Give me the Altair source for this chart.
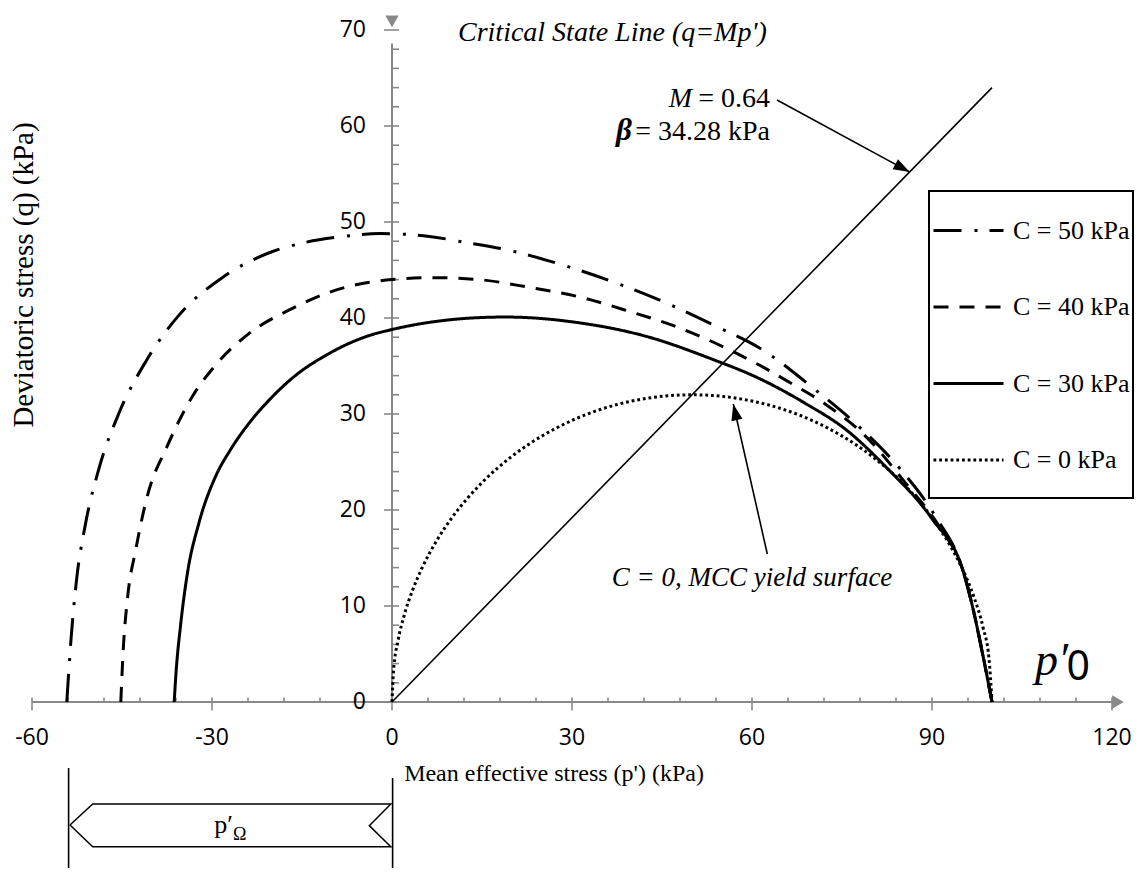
import altair as alt
import pandas as pd

# ---------------- data ----------------
SERIES = ["C = 50 kPa", "C = 40 kPa", "C = 30 kPa", "C = 0 kPa"]

P_C50 = [-54.2, -53.5, -52.6, -51.1, -48.8, -45.5, -41.0, -35.5, -28.3, -20.0, -15.0, -8.0, -2.0,
         6.2, 12.0, 18.4, 27.5, 36.7, 45.6, 54.5, 61.2, 70.6, 77.8, 84.8, 90.6, 95.0, 100.0]
Q_C50 = [0.0, 6.5, 12.6, 18.5, 24.4, 30.1, 35.5, 40.3, 44.2, 46.9, 47.8, 48.5, 48.8,
         48.5, 47.9, 47.2, 45.7, 43.8, 41.6, 39.0, 36.9, 32.5, 28.7, 24.2, 19.3, 14.0, 0.0]

P_C40 = [-45.2, -44.8, -44.1, -42.7, -40.8, -37.5, -33.3, -29.4, -23.8, -16.6, -9.4, 0.0, 7.0,
         14.5, 22.8, 31.2, 39.5, 47.8, 56.2, 61.2, 66.5, 72.3, 78.9, 85.6, 91.2, 95.0, 100.0]
Q_C40 = [0.0, 5.4, 10.7, 15.9, 21.4, 26.6, 31.8, 35.1, 38.4, 41.0, 42.9, 44.0, 44.2,
         44.0, 43.2, 42.2, 40.7, 39.0, 36.7, 35.1, 33.2, 31.0, 27.7, 22.8, 18.3, 14.0, 0.0]

P_C30 = [-36.3, -36.0, -35.2, -34.1, -32.2, -29.4, -27.0, -24.0, -21.0, -15.5, -11.6, -7.7,
         -3.9, 0.0, 3.9, 7.8, 13.0, 18.9, 31.2, 42.3, 53.4, 61.2, 68.9, 75.6, 82.3, 90.1,
         95.0, 100.0]
Q_C30 = [0.0, 3.0, 8.2, 13.4, 18.6, 23.5, 26.2, 28.9, 31.1, 34.3, 35.9, 37.2,
         38.15, 38.8, 39.31, 39.68, 39.99, 40.1, 39.5, 38.1, 35.7, 33.7, 31.1, 28.4, 24.5, 19.0,
         14.0, 0.0]

P_C0 = [0, 0.25, 1, 2, 3.5, 5, 7.5, 10, 15, 20, 25, 30, 35, 40, 45, 50, 55, 60, 65, 70,
        75, 80, 85, 90, 93, 95, 97, 98.5, 99.5, 100]
Q_C0 = [0, 3.2, 6.37, 8.96, 11.76, 13.95, 16.86, 19.2, 22.85, 25.6, 27.71, 29.33, 30.53,
        31.35, 31.84, 32, 31.84, 31.35, 30.53, 29.33, 27.71, 25.6, 22.85, 19.2, 16.33,
        13.95, 10.92, 7.78, 4.51, 0]

CSL_P = [0, 100]
CSL_Q = [0, 64]

X_TICKS = [-60, -30, 0, 30, 60, 90, 120]
Y_TICKS = [0, 10, 20, 30, 40, 50, 60, 70]
X_MINOR = [-54, -48, -42, -36, -24, -18, -12, -6, 6, 12, 18, 24, 36, 42, 48, 54,
           66, 72, 78, 84, 96, 102, 108, 114]
Y_MINOR = [2, 4, 6, 8, 12, 14, 16, 18, 22, 24, 26, 28, 32, 34, 36, 38, 42, 44, 46, 48,
           52, 54, 56, 58, 62, 64, 66, 68]

# ---------------- styling helpers ----------------
AX = "#898989"
SERIF = "Liberation Serif"
SANS = "Open Sans"
XS = alt.Scale(domain=[-60, 120], nice=False, zero=False)
YS = alt.Scale(domain=[0, 70], nice=False, zero=False)


def X(f="p"):
    return alt.X(f"{f}:Q", scale=XS, axis=None)


def Y(f="q"):
    return alt.Y(f"{f}:Q", scale=YS, axis=None)


# ---------------- curves ----------------
rows = []
for name, ps, qs in [(SERIES[0], P_C50, Q_C50), (SERIES[1], P_C40, Q_C40),
                     (SERIES[2], P_C30, Q_C30), (SERIES[3], P_C0, Q_C0)]:
    for i, (p, q) in enumerate(zip(ps, qs)):
        rows.append({"p": p, "q": q, "series": name, "idx": i})
curves_df = pd.DataFrame(rows)

curves = alt.Chart(curves_df).mark_line(stroke="black", strokeWidth=3,
                                        interpolate="monotone").encode(
    x=X(), y=Y(), order="idx:Q",
    strokeDash=alt.StrokeDash(
        "series:N",
        scale=alt.Scale(domain=SERIES,
                        range=[[28, 13, 3, 12], [15, 11], [1, 0], [2.8, 2.9]]),
        legend=alt.Legend(
            title=" ", titleOrient="bottom", titleFontSize=8, titlePadding=14,
            orient="none", legendX=897, legendY=161,
            symbolType="stroke", symbolSize=4900, symbolStrokeWidth=3,
            symbolStrokeColor="black", labelFont=SERIF, labelFontSize=26,
            labelColor="black", labelOffset=8, labelLimit=400,
            padding=3, rowPadding=26.5, strokeColor="black", fillColor="white",
        ),
    ),
)

csl = alt.Chart(pd.DataFrame({"p": CSL_P, "q": CSL_Q})).mark_line(
    color="black", strokeWidth=1.6).encode(x=X(), y=Y())

# ---------------- hand-drawn axes ----------------
x_axis = alt.Chart(pd.DataFrame({"p": [-60], "p2": [121], "q": [0]})).mark_rule(
    color=AX, strokeWidth=2).encode(x=X(), x2="p2:Q", y=Y())
y_axis = alt.Chart(pd.DataFrame({"p": [0], "q": [0], "q2": [68.6]})).mark_rule(
    color=AX, strokeWidth=2).encode(x=X(), y=Y(), y2="q2:Q")
x_arrow = alt.Chart(pd.DataFrame({"p": [121], "q": [0]})).mark_point(
    shape="triangle-right", filled=True, color=AX, opacity=1, size=180).encode(x=X(), y=Y())
y_arrow = alt.Chart(pd.DataFrame({"p": [0], "q": [70.9]})).mark_point(
    shape="triangle-down", filled=True, color=AX, opacity=1, size=180).encode(x=X(), y=Y())

xmaj = alt.Chart(pd.DataFrame({"p": X_TICKS, "q": [0] * len(X_TICKS)})).mark_rule(
    color=AX, strokeWidth=1.6, yOffset=-4.5, y2Offset=8.5).encode(x=X(), y=Y(), y2="q:Q")
xmin = alt.Chart(pd.DataFrame({"p": X_MINOR, "q": [0] * len(X_MINOR)})).mark_rule(
    color=AX, strokeWidth=1.6, yOffset=-4.5, y2Offset=0).encode(x=X(), y=Y(), y2="q:Q")
ymaj = alt.Chart(pd.DataFrame({"q": Y_TICKS, "p": [0] * len(Y_TICKS)})).mark_rule(
    color=AX, strokeWidth=1.6, xOffset=-8, x2Offset=7).encode(x=X(), x2="p:Q", y=Y())
ymin = alt.Chart(pd.DataFrame({"q": Y_MINOR, "p": [0] * len(Y_MINOR)})).mark_rule(
    color=AX, strokeWidth=1.6, xOffset=0, x2Offset=7).encode(x=X(), x2="p:Q", y=Y())

xlab = alt.Chart(pd.DataFrame({"p": X_TICKS, "q": [0] * len(X_TICKS),
                               "text": [str(v) for v in X_TICKS]})).mark_text(
    font=SANS, fontSize=23, color="black", dy=36, baseline="middle", align="center"
).encode(x=X(), y=Y(), text="text:N")
ylab = alt.Chart(pd.DataFrame({"q": Y_TICKS, "p": [0] * len(Y_TICKS),
                               "text": [str(v) for v in Y_TICKS]})).mark_text(
    font=SANS, fontSize=23, color="black", dx=-26, baseline="middle", align="right"
).encode(x=X(), y=Y(), text="text:N")


def txt(p, q, text, **kw):
    return alt.Chart(pd.DataFrame({"p": [p], "q": [q], "text": [text]})).mark_text(
        color="black", **kw).encode(x=X(), y=Y(), text="text:N")


titles = [
    txt(27.0, -7.5, "Mean effective stress (p') (kPa)", font=SERIF, fontSize=24,
        align="center", baseline="middle"),
    txt(-61.33, 44.48, "Deviatoric stress (q) (kPa)", font=SERIF, fontSize=29,
        align="center", baseline="middle", angle=270),
    txt(11.0, 69.7, "Critical State Line (q=Mp')", font=SERIF, fontSize=28,
        fontStyle="italic", align="left", baseline="middle"),
    txt(50.0, 62.0, "M", font=SERIF, fontSize=28, fontStyle="italic", align="right",
        baseline="alphabetic"),
    txt(63.0, 62.0, " = 0.64", font=SERIF, fontSize=28, align="right", baseline="alphabetic"),
    txt(40.0, 58.54, "β", font=SERIF, fontSize=31, fontStyle="italic", fontWeight="bold",
        align="right", baseline="alphabetic"),
    txt(63.0, 58.54, " = 34.28 kPa", font=SERIF, fontSize=28, align="right",
        baseline="alphabetic"),
    txt(60.0, 12.92, "C = 0, MCC yield surface", font=SERIF, fontSize=27,
        fontStyle="italic", align="center", baseline="middle"),
    txt(107.17, 2.81, "p′", font=SERIF, fontSize=46, fontStyle="italic", align="left",
        baseline="alphabetic"),
    txt(112.4, 2.29, "0", font="Noto Sans", fontSize=41, align="left",
        baseline="alphabetic"),
    txt(-26.5, -13.65, "p′", font=SERIF, fontSize=26, align="right", baseline="alphabetic"),
    txt(-26.5, -14.4, "Ω", font=SERIF, fontSize=18, align="left", baseline="alphabetic"),
]

# ---------------- annotation arrows ----------------
HEAD = "M0,0 L-0.75,2.2 L0.75,2.2 Z"
arrow1 = alt.Chart(pd.DataFrame({"p": [64.17], "q": [62.71], "p2": [86.3], "q2": [55.2]})
                   ).mark_rule(color="black", strokeWidth=1.6).encode(
    x=X(), y=Y(), x2="p2:Q", y2="q2:Q")
head1 = alt.Chart(pd.DataFrame({"p": [86.3], "q": [55.2]})).mark_point(
    shape=HEAD, filled=True, color="black", opacity=1, size=225, angle=118.4
).encode(x=X(), y=Y())
arrow2 = alt.Chart(pd.DataFrame({"p": [62.55], "q": [15.42], "p2": [56.88], "q2": [31.04]})
                   ).mark_rule(color="black", strokeWidth=1.6).encode(
    x=X(), y=Y(), x2="p2:Q", y2="q2:Q")
head2 = alt.Chart(pd.DataFrame({"p": [56.88], "q": [31.04]})).mark_point(
    shape=HEAD, filled=True, color="black", opacity=1, size=225, angle=347.2
).encode(x=X(), y=Y())

# p'_Omega dimension marker
vlines = alt.Chart(pd.DataFrame({"p": [-53.9, 0.1], "q": [-6.88, -7.92],
                                 "q2": [-20.0, -20.0]})).mark_rule(
    color="black", strokeWidth=1.6).encode(x=X(), y=Y(), y2="q2:Q")
BOX_P = [-53.67, -49.88, -0.2, -3.78, -0.2, -49.88, -53.67]
BOX_Q = [-12.81, -10.63, -10.63, -12.88, -15.07, -15.07, -12.81]
box = alt.Chart(pd.DataFrame({"p": BOX_P, "q": BOX_Q, "o": list(range(len(BOX_P)))})
                ).mark_line(color="black", strokeWidth=1.5).encode(x=X(), y=Y(), order="o:Q")

chart = alt.layer(
    x_axis, y_axis, xmin, xmaj, ymin, ymaj, x_arrow, y_arrow, xlab, ylab,
    csl, curves, arrow1, head1, arrow2, head2, vlines, box, *titles
).properties(
    width=1080, height=672,
    padding={"left": 24, "top": 22, "right": 28, "bottom": 166},
    autosize=alt.AutoSizeParams(type="none"),
).configure_view(stroke="transparent").configure_legend(strokeWidth=2)

chart.save("out.html", embed_options={"renderer": "svg", "actions": False})
